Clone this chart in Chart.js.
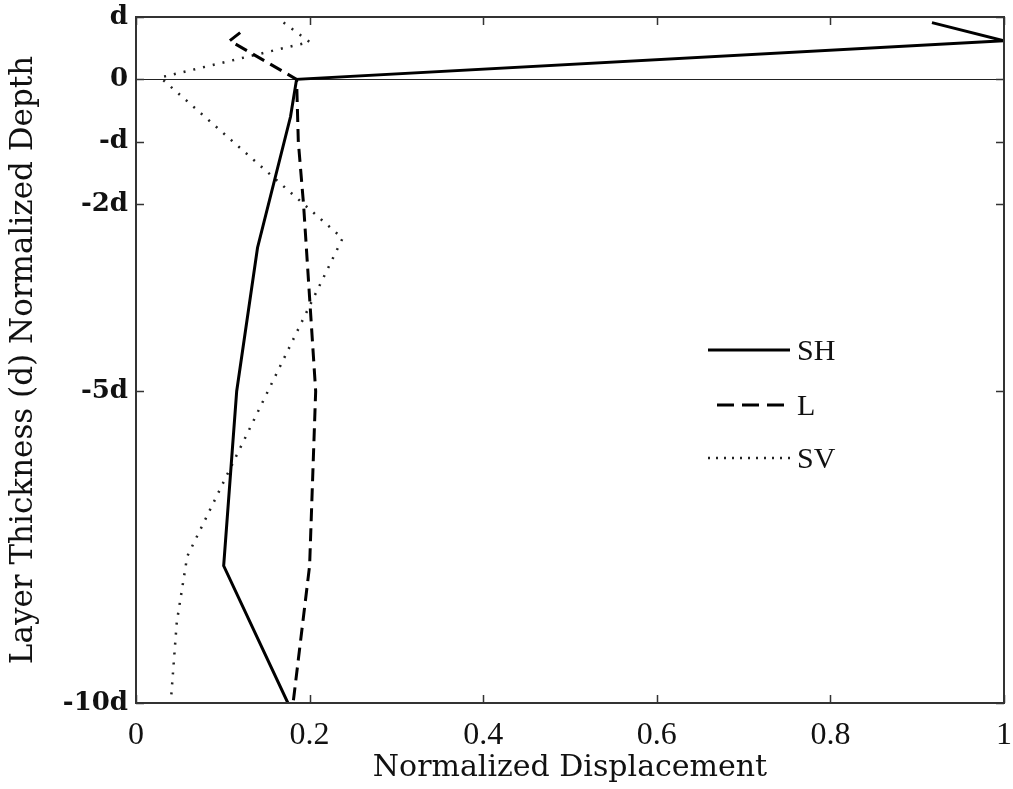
<!DOCTYPE html>
<html>
<head>
<meta charset="utf-8">
<script src="https://cdn.jsdelivr.net/npm/chart.js@4.4.1/dist/chart.umd.min.js"></script>
<style>
  html, body { margin: 0; padding: 0; background: #fff; }
  #wrap { width: 1013px; height: 789px; }
</style>
</head>
<body>
<div id="wrap"><canvas id="c" width="1013" height="789"></canvas></div>
<script>
// Valeurs (x = déplacement normalisé, y = profondeur en d)
const shX = [0.917, 1.0, 0.185, 0.178, 0.140, 0.116, 0.101, 0.175];
const shY = [0.91, 0.62, 0.0, -0.6, -2.7, -5.0, -7.8, -10.0];

const lX = [0.120, 0.108, 0.185, 0.187, 0.193, 0.200, 0.207, 0.200, 0.181];
const lY = [0.75, 0.62, 0.0, -1.0, -2.0, -3.5, -5.0, -7.8, -10.0];

const svX = [0.170, 0.200, 0.028, 0.238, 0.059, 0.047, 0.040];
const svY = [0.91, 0.60, 0.03, -2.55, -7.65, -8.7, -10.0];

// Graduations
const xTicks = [0, 0.2, 0.4, 0.6, 0.8, 1];
const xTickLabels = ['0', '0.2', '0.4', '0.6', '0.8', '1'];
const yTicks = [1, 0, -1, -2, -5, -10];
const yTickLabels = ['d', '0', '-d', '-2d', '-5d', '-10d'];

const seriesNames = ['SH', 'L', 'SV'];

function toPoints(xs, ys) {
    return xs.map((x, i) => ({ x: x, y: ys[i] }));
}

// Cadre + petites graduations vers l'intérieur, et légende dans la zone
const boxPlugin = {
    id: 'boxPlugin',
    afterDatasetsDraw(chart) {
        const ctx = chart.ctx;
        const a = chart.chartArea;
        const xs = chart.scales.x, ys = chart.scales.y;
        ctx.save();
        ctx.strokeStyle = '#333';
        ctx.lineWidth = 2;
        ctx.strokeRect(a.left, a.top, a.right - a.left, a.bottom - a.top);
        ctx.lineWidth = 1.5;
        const t = 8;
        ctx.beginPath();
        xTicks.forEach(v => {
            const px = Math.round(xs.getPixelForValue(v)) + 0.5;
            ctx.moveTo(px, a.bottom); ctx.lineTo(px, a.bottom - t);
            ctx.moveTo(px, a.top); ctx.lineTo(px, a.top + t);
        });
        yTicks.forEach(v => {
            const py = Math.round(ys.getPixelForValue(v)) + 0.5;
            ctx.moveTo(a.left, py); ctx.lineTo(a.left + t, py);
            ctx.moveTo(a.right, py); ctx.lineTo(a.right - t, py);
        });
        ctx.stroke();

        // Légende
        const lx0 = 708, lx1 = 790;
        const rows = [350, 405, 458];
        ctx.font = '30px "Liberation Serif", serif';
        ctx.textBaseline = 'middle';
        ctx.fillStyle = '#111';
        chart.data.datasets.forEach((ds, i) => {
            ctx.save();
            ctx.strokeStyle = ds.borderColor;
            ctx.lineWidth = ds.borderWidth;
            ctx.setLineDash(ds.legendDash || ds.borderDash || []);
            ctx.beginPath();
            const start = i === 1 ? 717 : lx0;
            ctx.moveTo(start, rows[i]);
            ctx.lineTo(lx1, rows[i]);
            ctx.stroke();
            ctx.restore();
            ctx.fillText(ds.label, 797, rows[i] + 2);
        });
        ctx.restore();
    }
};

new Chart(document.getElementById('c').getContext('2d'), {
    type: 'scatter',
    data: {
        datasets: [
            { label: seriesNames[0], data: toPoints(shX, shY), showLine: true,
              borderColor: '#000', borderWidth: 3, pointRadius: 0, tension: 0 },
            { label: seriesNames[1], data: toPoints(lX, lY), showLine: true,
              borderColor: '#000', borderWidth: 3, borderDash: [13, 7], legendDash: [17, 8],
              pointRadius: 0, tension: 0 },
            { label: seriesNames[2], data: toPoints(svX, svY), showLine: true,
              borderColor: '#222', borderWidth: 2.5, borderDash: [2, 8], legendDash: [2, 6],
              pointRadius: 0, tension: 0 }
        ]
    },
    options: {
        responsive: false,
        animation: false,
        layout: { padding: { top: 17, right: 9, bottom: 0, left: 0 } },
        plugins: { legend: { display: false }, tooltip: { enabled: false } },
        scales: {
            x: {
                type: 'linear', min: 0, max: 1,
                afterBuildTicks: s => { s.ticks = xTicks.map(v => ({ value: v })); },
                afterFit: s => { s.height = 86; s.paddingLeft = 0; s.paddingRight = 0; },
                grid: { display: false, drawTicks: false },
                border: { display: false },
                ticks: {
                    padding: 13, color: '#111', maxRotation: 0, autoSkip: false,
                    font: { family: '"Liberation Serif", serif', size: 32 },
                    callback: (v, i) => xTickLabels[i]
                },
                title: {
                    display: true, text: 'Normalized Displacement', color: '#111',
                    font: { family: '"DejaVu Serif", serif', size: 30 },
                    padding: { top: 0, bottom: 3 }
                }
            },
            y: {
                type: 'linear', min: -10, max: 1,
                afterBuildTicks: s => { s.ticks = yTicks.map(v => ({ value: v })); },
                afterFit: s => { s.width = 136; s.paddingTop = 0; s.paddingBottom = 0; },
                grid: {
                    drawTicks: false,
                    color: c => (c.tick && c.tick.value === 0) ? '#222' : 'rgba(0,0,0,0)',
                    lineWidth: 1
                },
                border: { display: false },
                ticks: {
                    padding: 8, color: '#111', autoSkip: false,
                    font: { family: '"DejaVu Serif", serif', size: 26, weight: 'bold' },
                    callback: (v, i) => yTickLabels[i]
                },
                title: {
                    display: true, text: 'Layer Thickness (d) Normalized Depth', color: '#111',
                    font: { family: '"DejaVu Serif", serif', size: 31 },
                    padding: { top: 5, bottom: 0 }
                }
            }
        }
    },
    plugins: [boxPlugin]
});
</script>
</body>
</html>
